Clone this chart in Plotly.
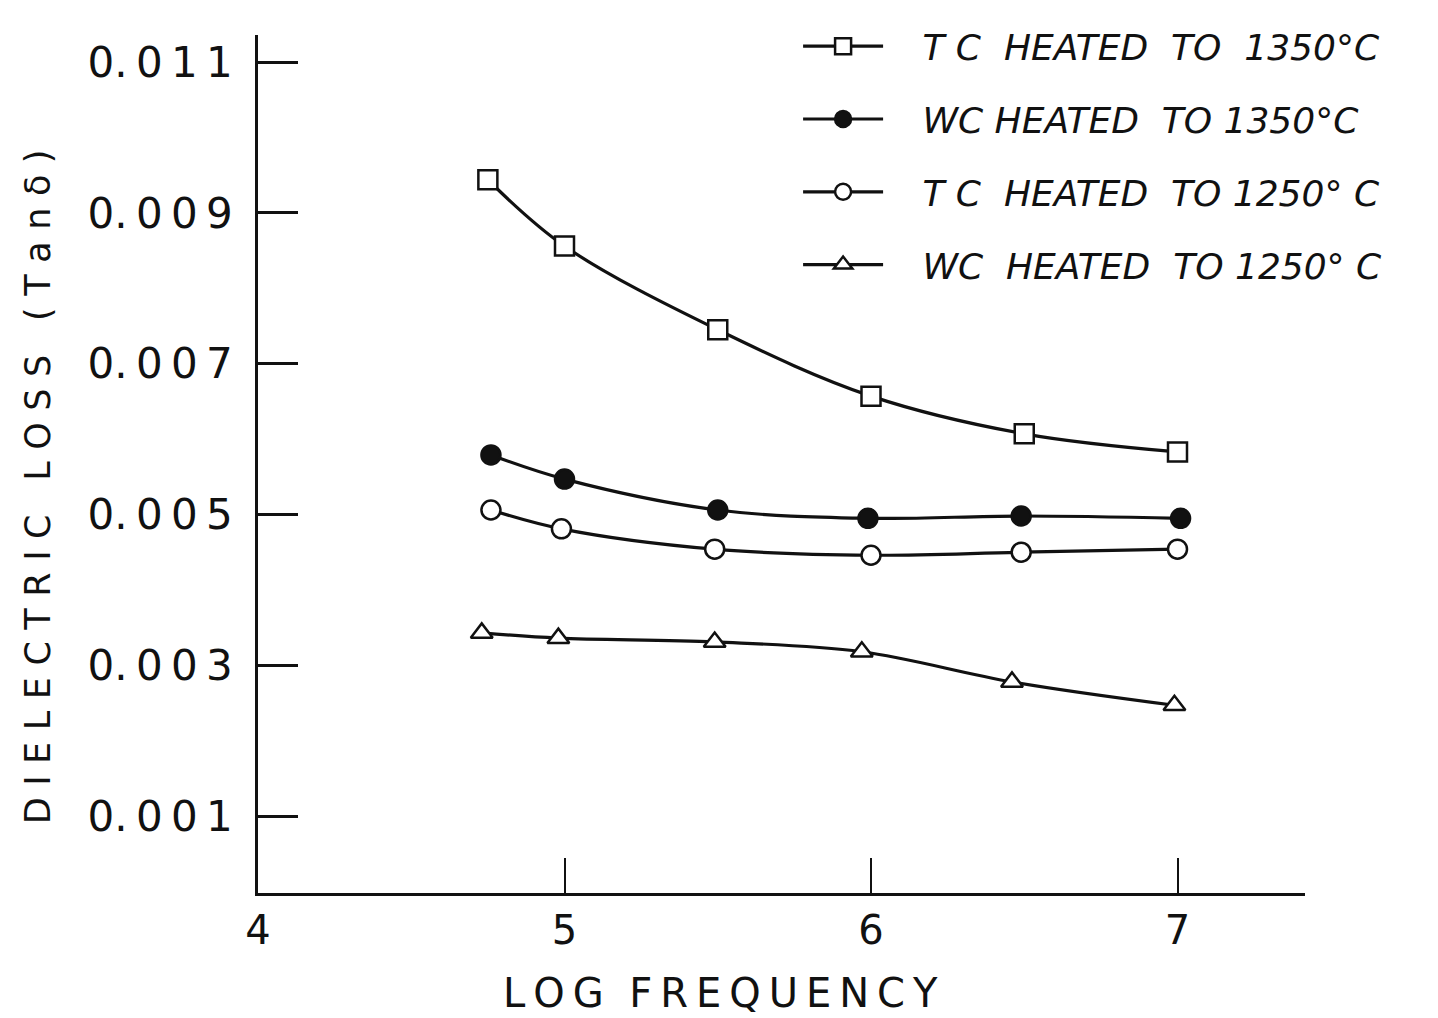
import plotly.graph_objects as go

# Dielectric loss (tan delta) versus log frequency for four samples
log_freq_tc1350 = [4.75, 5.0, 5.5, 6.0, 6.5, 7.0]
tan_tc1350 = [0.00944, 0.00856, 0.00745, 0.00657, 0.00607, 0.00583]

log_freq_wc1350 = [4.76, 5.0, 5.5, 5.99, 6.49, 7.01]
tan_wc1350 = [0.00579, 0.00547, 0.00506, 0.00495, 0.00498, 0.00495]

log_freq_tc1250 = [4.76, 4.99, 5.49, 6.0, 6.49, 7.0]
tan_tc1250 = [0.00506, 0.00481, 0.00454, 0.00446, 0.00450, 0.00454]

log_freq_wc1250 = [4.73, 4.98, 5.49, 5.97, 6.46, 6.99]
tan_wc1250 = [0.00343, 0.00336, 0.00331, 0.00318, 0.00278, 0.00247]

series_names = [
    "T C  HEATED  TO  1350\u00b0C",
    "WC HEATED  TO 1350\u00b0C",
    "T C  HEATED  TO 1250\u00b0 C",
    "WC  HEATED  TO 1250\u00b0 C",
]

x_ticks = [4, 5, 6, 7]
x_tick_text = ["4", "5", "6", "7"]
y_ticks = [0.001, 0.003, 0.005, 0.007, 0.009, 0.011]
y_tick_text = ["0.\u20090\u20090\u20091", "0.\u20090\u20090\u20093", "0.\u20090\u20090\u20095",
               "0.\u20090\u20090\u20097", "0.\u20090\u20090\u20099", "0.\u20090\u20091\u20091"]

INK = "#111111"
LEAD = "\u00a0\u00a0\u00a0"
SP = "\u2004"

series = [
    (log_freq_tc1350, tan_tc1350, "square", "white", series_names[0]),
    (log_freq_wc1350, tan_wc1350, "circle", INK, series_names[1]),
    (log_freq_tc1250, tan_tc1250, "circle", "white", series_names[2]),
    (log_freq_wc1250, tan_wc1250, "triangle-up", "white", series_names[3]),
]

fig = go.Figure()
for i, (xs, ys, sym, fill, name) in enumerate(series):
    fig.add_trace(go.Scatter(
        x=xs, y=ys, name=LEAD + name, mode="lines+markers",
        line=dict(color=INK, width=3.2, shape="spline", smoothing=1.0),
        marker=dict(symbol=sym, size=19, color=fill,
                    line=dict(color=INK, width=2.5)),
        legendgroup=f"g{i}",
    ))

y_title = SP.join("DIELECTRIC") + SP + "  " + SP.join("LOSS") + SP + "  " + SP.join("(Tan\u03b4)")

fig.update_layout(
    width=1438, height=1018,
    paper_bgcolor="white", plot_bgcolor="white",
    margin=dict(l=258, r=133, t=35, b=125, autoexpand=False),
    font=dict(family="DejaVu Sans", color=INK),
    showlegend=True,
    legend=dict(
        xref="container", yref="container",
        x=0.555, y=0.984, xanchor="left", yanchor="top",
        font=dict(family="DejaVu Sans", size=36, style="italic", color=INK),
        itemwidth=80, tracegroupgap=23, traceorder="grouped",
        bgcolor="rgba(0,0,0,0)",
    ),
    xaxis=dict(
        range=[4, 7.416], showgrid=False, zeroline=False,
        showline=True, linecolor=INK, linewidth=2.5,
        tickmode="array", tickvals=x_ticks, ticktext=x_tick_text,
        ticks="inside", ticklen=35, tickwidth=2, tickcolor=INK,
        tickfont=dict(family="DejaVu Sans", size=40, color=INK),
    ),
    yaxis=dict(
        range=[-0.00002, 0.01136], showgrid=False, zeroline=False,
        showline=True, linecolor=INK, linewidth=2.5,
        tickmode="array", tickvals=y_ticks, ticktext=y_tick_text,
        ticks="inside", ticklen=40, tickwidth=2.5, tickcolor=INK,
        ticklabelstandoff=14,
        tickfont=dict(family="DejaVu Sans", size=42, color=INK),
    ),
    annotations=[
        dict(text=y_title,
             xref="paper", yref="paper", x=-0.21, y=0.473, textangle=-90,
             showarrow=False, xanchor="center", yanchor="middle",
             font=dict(family="DejaVu Sans", size=35, color=INK)),
        dict(text="L\u2009O\u2009G  F\u2009R\u2009E\u2009Q\u2009U\u2009E\u2009N\u2009C\u2009Y",
             xref="paper", yref="paper", x=0.442, y=-0.117,
             showarrow=False, xanchor="center", yanchor="middle",
             font=dict(family="DejaVu Sans", size=40, color=INK)),
    ],
)

fig.write_html("out.html")
